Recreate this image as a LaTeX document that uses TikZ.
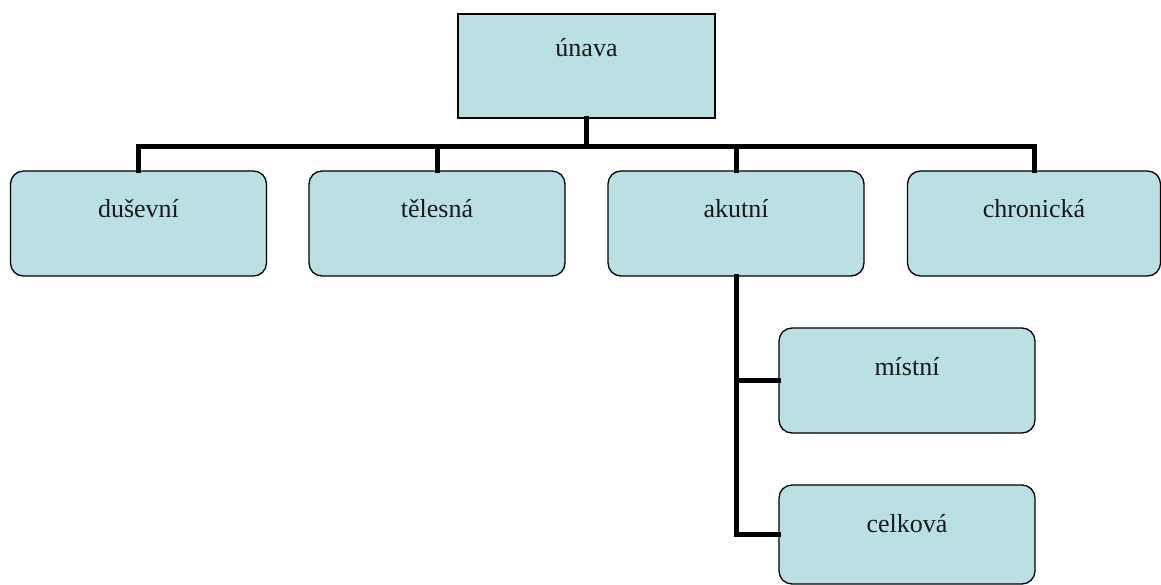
\documentclass[tikz,border=0pt]{standalone}
\usepackage{fontspec}
\setmainfont{Liberation Serif}
\definecolor{boxfill}{RGB}{187,224,227}
\tikzset{
  basebox/.style={draw=black, line width=1.3pt, fill=boxfill, inner sep=0pt,
    font=\fontsize{26}{30}\selectfont, text=black!90},
  rbox/.style={basebox, rounded corners=13pt, minimum width=256pt, minimum height=105pt,
    text height=20pt, text depth=31pt},
  conn/.style={line width=5pt, line join=miter, line cap=rect}
}
\begin{document}
\begin{tikzpicture}[x=1pt,y=-1pt]
\useasboundingbox (0,0) rectangle (1161,585);
\node[basebox, minimum width=257pt, minimum height=104pt, text height=20pt, text depth=38pt] (unava) at (586.5,66) {únava};
\node[rbox] (dus) at (138.5,223.5) {duševní};
\node[rbox] (tel) at (437,223.5) {tělesná};
\node[rbox] (aku) at (736,223.5) {akutní};
\node[rbox, minimum width=253pt] (chr) at (1034,223.5) {chronická};
\node[rbox] (mis) at (907,380.5) {místní};
\node[rbox, minimum height=99pt, text height=20pt, text depth=25pt] (cel) at (907,534.5) {celková};
\coordinate (bar) at (587,147);
\draw[conn] (unava.south) -- (unava.south |- bar);
\draw[conn] (dus.north) -- (dus.north |- bar) -- (chr.north |- bar) -- (chr.north);
\draw[conn] (tel.north) -- (tel.north |- bar);
\draw[conn] (aku.north) -- (aku.north |- bar);
\draw[conn] (aku.south) |- (cel.west);
\draw[conn] (aku.south |- mis.west) -- (mis.west);
\end{tikzpicture}
\end{document}
